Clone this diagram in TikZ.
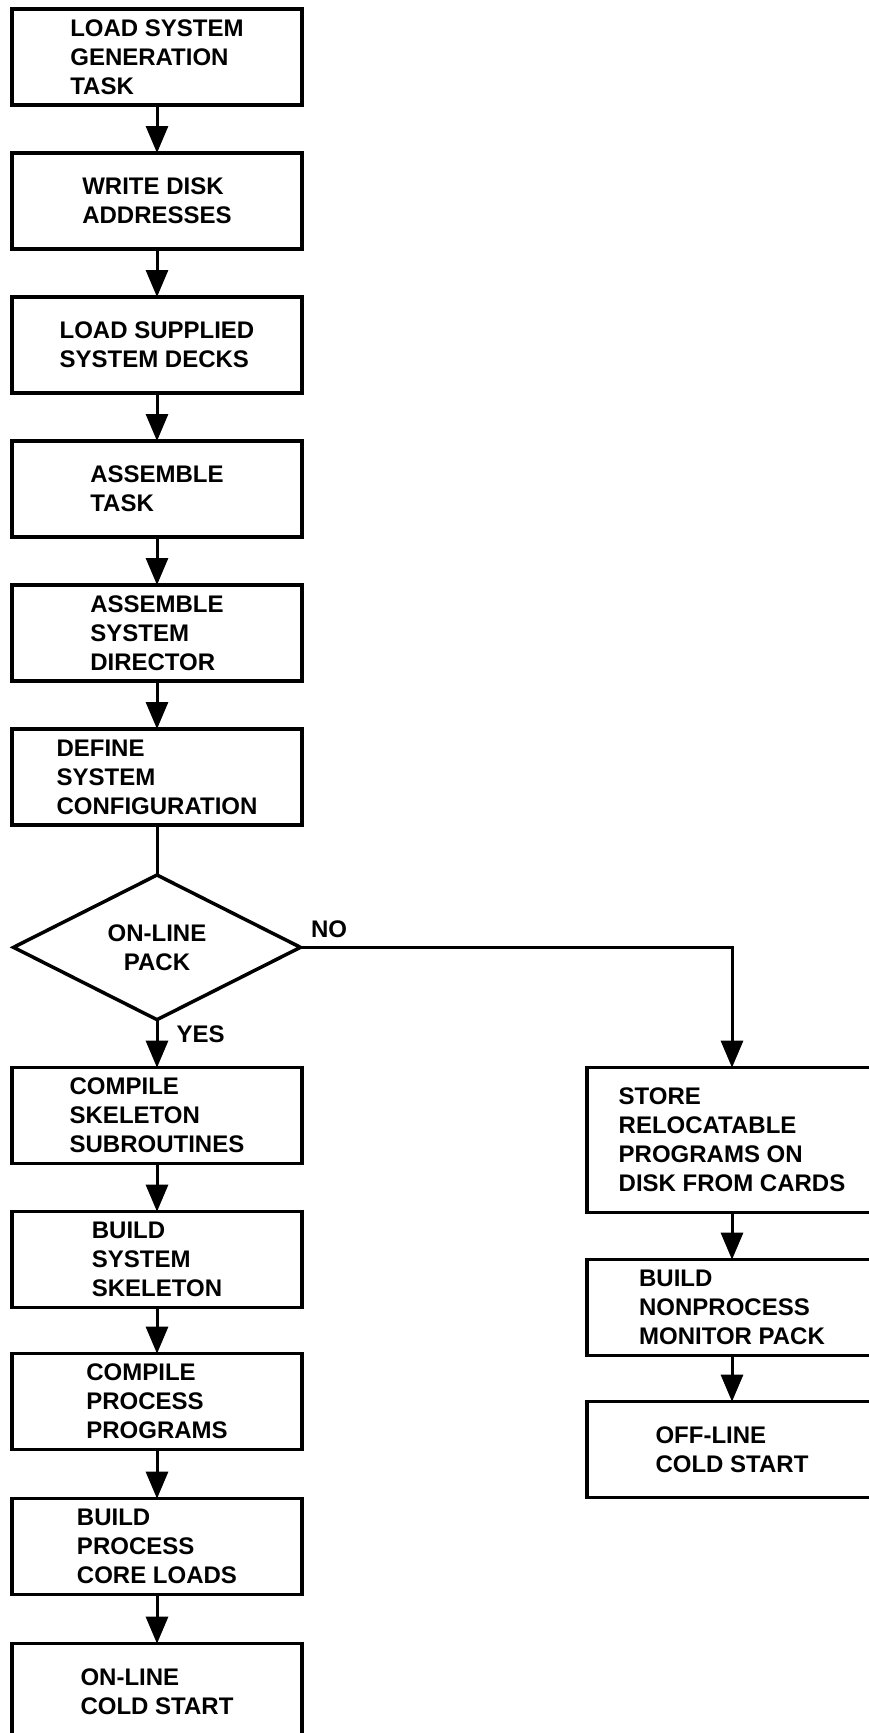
\documentclass[tikz,border=0pt]{standalone}
\usepackage{fontspec}
\setmainfont{Liberation Sans}
\usetikzlibrary{positioning,shapes.geometric,arrows.meta}

\begin{document}
\begin{tikzpicture}[
  every node/.style={font=\fontsize{24}{29}\selectfont\bfseries},
  task/.style={rectangle, draw, line width=3.5pt, minimum width=290pt, minimum height=96pt,
               align=left, inner sep=6pt, outer sep=0pt},
  decision/.style={diamond, draw, line width=3.5pt, minimum width=287pt, minimum height=142pt,
                   inner sep=0pt, outer sep=0pt, align=center},
  flow/.style={line width=3pt, -{Triangle[width=22pt,length=27pt]}},
  link/.style={line width=3pt},
  lbl/.style={inner sep=0pt}
]
  \useasboundingbox (0,0) rectangle (868pt,-1733pt);

  \node[task] (loadgen) at (157pt,-57pt) {LOAD SYSTEM\\GENERATION\\TASK};
  \node[task, below=48pt of loadgen] (diskaddr) {WRITE DISK\\ADDRESSES};
  \node[task, below=48pt of diskaddr] (decks) {LOAD SUPPLIED\\SYSTEM DECKS};
  \node[task, below=48pt of decks] (asmtask) {ASSEMBLE\\TASK};
  \node[task, below=48pt of asmtask] (asmdir) {ASSEMBLE\\SYSTEM\\DIRECTOR};
  \node[task, below=48pt of asmdir] (config) {DEFINE\\SYSTEM\\CONFIGURATION};

  \node[decision, below=50pt of config] (pack) {ON-LINE\\PACK};

  \node[task, below=48pt of pack] (skelsub) {COMPILE\\SKELETON\\SUBROUTINES};
  \node[task, below=48pt of skelsub] (skeleton) {BUILD\\SYSTEM\\SKELETON};
  \node[task, below=46pt of skeleton] (procprog) {COMPILE\\PROCESS\\PROGRAMS};
  \node[task, below=49pt of procprog] (coreload) {BUILD\\PROCESS\\CORE LOADS};
  \node[task, below=49pt of coreload] (oncold) {ON-LINE\\COLD START};

  \node[task, minimum height=145pt, right=285pt of skelsub.north east, anchor=north west] (reloc)
    {STORE\\RELOCATABLE\\PROGRAMS ON\\DISK FROM CARDS};
  \node[task, below=47pt of reloc] (nonproc) {BUILD\\NONPROCESS\\MONITOR PACK};
  \node[task, below=46pt of nonproc] (offcold) {OFF-LINE\\COLD START};

  \draw[flow] (loadgen) -- (diskaddr);
  \draw[flow] (diskaddr) -- (decks);
  \draw[flow] (decks) -- (asmtask);
  \draw[flow] (asmtask) -- (asmdir);
  \draw[flow] (asmdir) -- (config);
  \draw[link] (config) -- (pack);
  \draw[flow] (pack) -- node[lbl, pos=0.3, right=18pt] {YES} (skelsub);
  \draw[flow] (pack.east) -| node[lbl, pos=0, above right=8pt and 9pt] {NO} (reloc);
  \draw[flow] (skelsub) -- (skeleton);
  \draw[flow] (skeleton) -- (procprog);
  \draw[flow] (procprog) -- (coreload);
  \draw[flow] (coreload) -- (oncold);
  \draw[flow] (reloc) -- (nonproc);
  \draw[flow] (nonproc) -- (offcold);
\end{tikzpicture}
\end{document}
